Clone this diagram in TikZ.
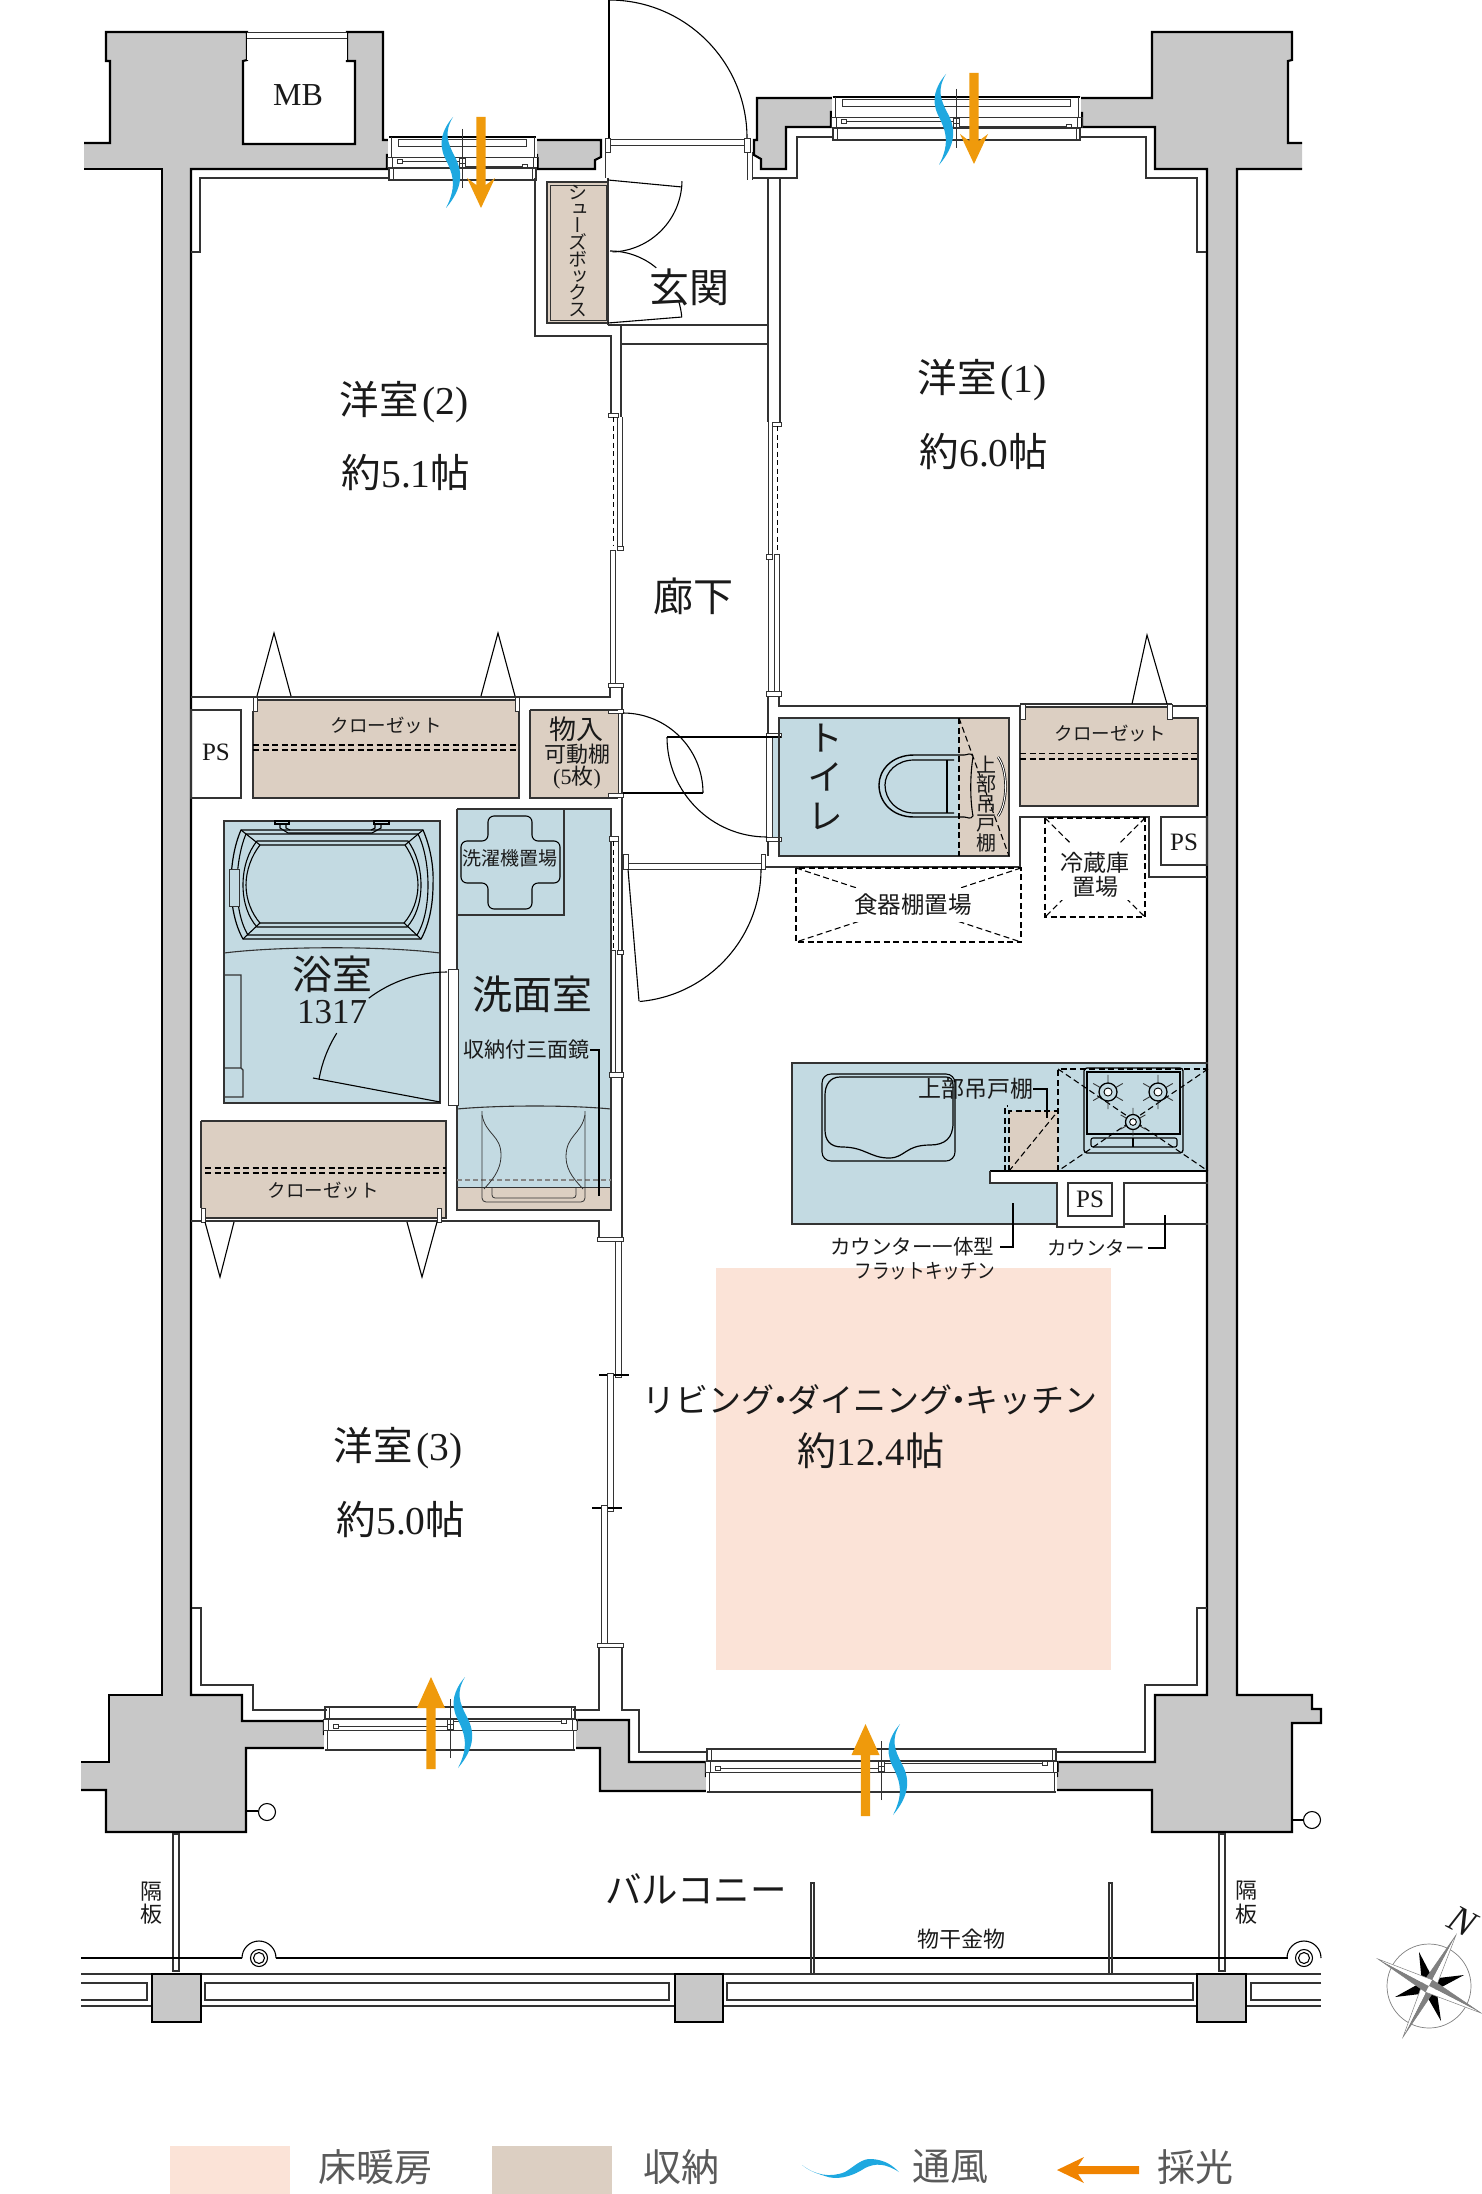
\documentclass[tikz,border=0pt]{standalone}
\usepackage{fontspec}
\usetikzlibrary{calc}
\newfontfamily\jp{Noto Sans CJK JP}
\newfontfamily\jpv[RawFeature={+vert}]{Noto Sans CJK JP}
\newfontfamily\lat{Liberation Serif}
\definecolor{wallc}{HTML}{C8C8C8}
\definecolor{tanc}{HTML}{DCCFC2}
\definecolor{bluec}{HTML}{C3DAE2}
\definecolor{pinkc}{HTML}{FBE3D7}
\definecolor{orgc}{HTML}{EF9A0C}
\definecolor{orgl}{HTML}{F08300}
\definecolor{wavec}{HTML}{1EA8E0}
\definecolor{linec}{HTML}{333333}
\definecolor{txtc}{HTML}{1A1A1A}
\definecolor{leg}{HTML}{5A5A5A}
\tikzset{
  wallfill/.style={fill=wallc,draw=none},
  wallline/.style={draw=black,line width=2.1pt,line join=miter},
  ln/.style={draw=linec,line width=1.1pt},
  lnt/.style={draw=linec,line width=.8pt},
  lnk/.style={draw=black,line width=1.1pt},
  jamb/.style={draw=linec,line width=.9pt,fill=white},
  dsh/.style={draw=black,line width=1.1pt,dash pattern=on 6pt off 3.5pt},
  dsht/.style={draw=black,line width=.7pt,dash pattern=on 5pt off 3.5pt},
  lbl/.style={inner sep=0pt,outer sep=0pt,anchor=center,align=center,text=txtc},
  tanfill/.style={fill=tanc,draw=none},
  bluefill/.style={fill=bluec,draw=none},
}
\newcommand\lab[4]{\node[lbl,font=\jp\fontsize{#3}{#3}\selectfont] (#1) at (#2) {#4};}
\newcommand\vlab[5]{\node[lbl,font=\jpv\fontsize{#3}{#4}\selectfont] (#1) at (#2) {#5};}
\newcommand\legl[3]{\node[lbl,text=leg,font=\jp\fontsize{38}{38}\selectfont] (#1) at (#2) {#3};}
\newcommand\rmtxt[1]{{\lat\kern.1em(#1)\kern.05em}}
% window: x0, width, exterior y, direction (1 = interior below, -1 = interior above)
\newcommand\winW[4]{%
\begin{scope}[shift={(#1,#3)},yscale=#4]
 \fill[white] (-3,0) rectangle (#2+3,43);
 \ifnum#4=1
  \draw[draw=black,line width=2pt] (-2,0)--(#2+2,0);
  \draw[lnt] (7,2) rectangle (#2-8,9);
 \else
  \draw[draw=linec,line width=1.5pt] (-2,0)--(#2+2,0);
 \fi
 \draw[lnt] (0,0)--(0,20) (#2,0)--(#2,20);
 \draw[lnt] (-4,20)--(#2+4,20);
 \draw[lnt] (-4,20)--(-4,31) (#2+4,20)--(#2+4,31) (1,20)--(1,31) (#2-1,20)--(#2-1,31);
 \draw[lnt] (6,24)--(#2/2-3,24) (#2/2+3,29)--(#2-6,29);
 \draw[jamb] (6,22) rectangle (11,26);
 \draw[jamb] (#2-12,27) rectangle (#2-7,31);
 \draw[jamb] (#2/2-3,21) rectangle (#2/2+3,31);
 \draw[lnt] (#2/2-3,26)--(#2/2+3,26);
 \draw[ln] (-2,31) rectangle (#2+2,43);
 \draw[lnt] (2,31)--(2,43) (#2-2,31)--(#2-2,43);
 \draw[line width=.9pt,draw=linec] (#2/2,-8)--(#2/2,51);
\end{scope}}
\newcommand\wavepic[1]{\fill[wavec,shift={(#1)}] (0,0) .. controls (-11,13) and (-15,26) .. (-8,41) .. controls (-1,55) and (5,68) .. (-7,91) .. controls (10,71) and (10,55) .. (2,40) .. controls (-6,25) and (-9,15) .. (0,0) -- cycle;}
\newcommand\arrowD[2]{\fill[orgc,shift={(#1,#2)}] (-4.7,0)--(4.7,0)--(4.7,68)--(14,61)--(0,91)--(-14,61)--(-4.7,68)--cycle;}
\newcommand\arrowU[2]{\fill[orgc,shift={(#1,#2)}] (-4.7,0)--(4.7,0)--(4.7,-61)--(14,-61)--(0,-92)--(-14,-61)--(-4.7,-61)--cycle;}
\newcommand\burner[2]{%
 \begin{scope}[shift={(#1)}]
 \draw[line width=.9pt,draw=linec] (90:#2*1.9pt)--(-90:#2*1.9pt) (30:#2*1.9pt)--(210:#2*1.9pt) (150:#2*1.9pt)--(330:#2*1.9pt);
 \draw[line width=1.3pt,draw=black,fill=bluec] (0,0) circle[radius=#2*1pt];
 \draw[line width=.9pt,draw=black,fill=white] (0,0) circle[radius=#2*.45pt];
 \end{scope}}
\newcommand\karc[4]{\draw[lnk] (#1) ++(#3:#2pt) arc[start angle=#3,end angle=#4,radius=#2pt];}
\newcommand\compray[2]{%
 \fill[#2] (1429,1986)--(#1)--($(1429,1986)!7pt!90:(#1)$)--cycle;
 \fill[white] (1429,1986)--(#1)--($(1429,1986)!7pt!-90:(#1)$)--cycle;
 \draw[draw=#2,line width=.5pt] ($(1429,1986)!7pt!-90:(#1)$)--(#1)--($(1429,1986)!7pt!90:(#1)$);}
\newcommand\compsmall[1]{%
 \fill[black] ($(1429,1986)!7pt!90:(#1)$)--(#1)--($(1429,1986)!7pt!-90:(#1)$)--cycle;}
\begin{document}
\begin{tikzpicture}[x=1pt,y=-1pt]
\useasboundingbox (0,0) rectangle (1482,2194);
\fill[white] (0,0) rectangle (1482,2194);
% ---------- floor fills
\fill[pinkc] (716,1268) rectangle (1111,1670);
\fill[bluefill] (792,1063)--(1208,1063)--(1208,1171)--(990,1171)--(990,1183)--(1057,1183)--(1057,1224)--(792,1224)--cycle;
\fill[tanfill] (1009,1111) rectangle (1058,1171);
\fill[bluefill] (224,821) rectangle (440,1103);
\fill[bluefill] (457,809) rectangle (611,1187);
\fill[tanfill] (457,1187) rectangle (611,1210);
\fill[bluefill] (779,718) rectangle (959,856);
\fill[bluefill] (772,737) rectangle (779,837);
\fill[tanfill] (959,718) rectangle (1009,856);
\fill[tanfill] (253,699) rectangle (519,798);
\fill[tanfill] (530,710) rectangle (618,798);
\fill[tanfill] (201,1121) rectangle (446,1218);
\fill[tanfill] (1020,707)--(1172,707)--(1172,718)--(1198,718)--(1198,806)--(1020,806)--cycle;
\fill[tanfill] (547,182) rectangle (608,323);
% ---------- walls: left mass
\fill[wallfill] (84,143)--(110,143)--(110,61)--(106,61)--(106,32)--(247,32)--(247,60)--(243,61)--(243,144)--(355,144)--(355,61)--(347,61)--(347,32)--(383,32)--(383,140)--(395,140)--(395,155)--(387,155)--(387,169)--(191,169)--(191,1695)--(242,1695)--(242,1721)--(324,1721)--(324,1734)--(333,1734)--(333,1748)--(246,1748)--(246,1832)--(106,1832)--(106,1790)--(81,1790)--(81,1762)--(109,1762)--(109,1695)--(162,1695)--(162,169)--(84,169)--cycle;
\draw[wallline] (84,143)--(110,143)--(110,61)--(106,61)--(106,32)--(247,32)--(247,60)--(243,61)--(243,144)--(355,144)--(355,61)--(347,61)--(347,32)--(383,32)--(383,140)--(395,140)--(395,155)--(387,155)--(387,169)--(191,169)--(191,1695)--(242,1695)--(242,1721)--(324,1721)--(324,1734)--(333,1734)--(333,1748)--(246,1748)--(246,1832)--(106,1832)--(106,1790)--(81,1790);
\draw[wallline] (81,1762)--(109,1762)--(109,1695)--(162,1695)--(162,169)--(84,169);
% MB opening: white slot between blocks at top
\fill[white] (247,33) rectangle (347,60);
\draw[lnt] (247,32)--(347,32) (247,38)--(347,38);
% walls: right mass
\fill[wallfill] (1073,98)--(1152,98)--(1152,32)--(1292,32)--(1292,60)--(1288,61)--(1288,143)--(1302,143)--(1302,169)--(1237,169)--(1237,1695)--(1312,1695)--(1312,1709)--(1321,1709)--(1321,1723)--(1292,1723)--(1292,1832)--(1152,1832)--(1152,1790)--(1048,1790)--(1048,1777)--(1057,1776)--(1057,1762)--(1155,1762)--(1155,1695)--(1207,1695)--(1207,169)--(1155,169)--(1155,127)--(1082,127)--(1082,113)--(1073,113)--cycle;
\draw[wallline] (1073,113)--(1073,98)--(1152,98)--(1152,32)--(1292,32)--(1292,60)--(1288,61)--(1288,143)--(1302,143);
\draw[wallline] (1302,169)--(1237,169)--(1237,1695)--(1312,1695)--(1312,1709)--(1321,1709)--(1321,1723)--(1292,1723)--(1292,1832)--(1152,1832)--(1152,1790)--(1048,1790)--(1048,1777)--(1057,1776)--(1057,1762)--(1155,1762)--(1155,1695)--(1207,1695)--(1207,169)--(1155,169)--(1155,127)--(1082,127)--(1082,113)--(1073,113);
% walls: small pieces
\filldraw[wallfill,wallline,fill=wallc] (530,140)--(601,140)--(601,157)--(595,160)--(595,169)--(537,169)--(537,155)--(530,155)--cycle;
\filldraw[wallfill,wallline,fill=wallc] (757,140)--(757,98)--(837,98)--(837,112)--(831,112)--(831,127)--(786,127)--(786,169)--(761,169)--(761,159)--(754,155)--(754,140)--cycle;
\filldraw[wallfill,wallline,fill=wallc] (574,1734)--(574,1720)--(629,1720)--(629,1762)--(706,1762)--(706,1776)--(714,1776)--(714,1791)--(600,1791)--(600,1748)--(567,1748)--(567,1736)--cycle;
% ---------- windows
\winW{391}{143}{137}{1}
\winW{835}{243}{97}{1}
\winW{327}{246}{1750}{-1}
\winW{709}{345}{1792}{-1}
% ---------- finish lines
\draw[ln] (390,178)--(200,178)--(200,252)--(191,252);
\draw[ln] (535,178)--(535,336)--(611,336)--(611,413);
\draw[ln] (834,137)--(797,137)--(797,178)--(752,178);
\draw[ln] (1080,137)--(1146,137)--(1146,178)--(1197,178)--(1197,252)--(1206,252);
\draw[ln] (327,1710)--(253,1710)--(253,1685)--(201,1685)--(201,1608)--(192,1608);
\draw[ln] (573,1710)--(599,1710)--(599,1647);
\draw[ln] (622,1647)--(622,1710)--(639,1710)--(639,1752)--(708,1752);
\draw[ln] (1055,1752)--(1145,1752)--(1145,1685)--(1197,1685)--(1197,1608)--(1207,1608);
% ---------- entrance
\draw[lnk] (609,0)--(609,138);
\karc{609,138}{138}{90}{0}
\draw[lnt] (605,139)--(750,139) (605,145)--(750,145);
\draw[jamb] (605,138) rectangle (610,152);
\draw[jamb] (744,138) rectangle (750,152);
\draw[lnt] (605,152)--(605,178) (747,152)--(747,180) (752,152)--(752,180);
\draw[ln] (608,178)--(608,325);
\draw[ln] (547,182) rectangle (608,323);
\draw[lnt] (550,185) rectangle (606,320);
\draw[lnk] (608,180)--(682,187);
\karc{610,180}{72}{-1}{-88}
\draw[lnk] (608,323)--(682,317);
\karc{610,323}{72}{90}{50}
\karc{610,323}{72}{18}{5}
\draw[ln] (608,325)--(768,325) (621,344)--(768,344);
% ---------- corridor, left
\draw[ln] (621,325)--(621,417);
\draw[lnt] (622,417)--(622,547) (617,417)--(617,547);
\draw[jamb] (608,413) rectangle (618,417);
\draw[dsht] (613,417)--(613,546);
\draw[jamb] (617,546) rectangle (623,550);
\draw[jamb] (610,550) rectangle (615,683);
\draw[jamb] (608,683) rectangle (623,687);
\draw[ln] (610,687)--(610,697)--(519,697) (253,697)--(191,697);
\draw[ln] (622,687)--(622,1237);
\draw[jamb] (608,709) rectangle (623,713);
\draw[lnt] (618,713)--(618,793);
\draw[jamb] (608,793) rectangle (623,797);
\draw[lnk] (623,793)--(703,793);
\karc{623,793}{80}{0}{90}
% corridor, right
\draw[ln] (768,178)--(768,422) (780,178)--(780,422);
\draw[jamb] (772,422) rectangle (781,426);
\draw[lnt] (768,422)--(768,554) (772,426)--(772,554);
\draw[dsht] (777,426)--(777,554);
\draw[jamb] (766,554) rectangle (772,559);
\draw[jamb] (774,554) rectangle (779,691);
\draw[jamb] (766,691) rectangle (781,696);
\draw[lnt] (768,559)--(768,691);
\draw[ln] (768,696)--(768,733) (779,696)--(779,706)--(1020,706);
% toilet walls & door
\draw[jamb] (766,733) rectangle (781,737);
\draw[jamb] (766,837) rectangle (781,841);
\draw[lnt] (766,737)--(766,837) (772,737)--(772,837);
\draw[ln] (768,841)--(768,856);
\draw[lnk] (781,737)--(667,737);
\karc{767,737}{100}{180}{270}
\draw[ln] (779,718) rectangle (1009,856);
\draw[ln] (765,867)--(1020,867)--(1020,817)--(1149,817)--(1149,877)--(1207,877);
\draw[jamb] (761,854) rectangle (765,869);
\draw[dsh] (959,718)--(959,856);
\draw[dsh] (959,718)--(1009,856);
% toilet fixture
\draw[lnk,line width=1.4pt] (964,755)--(914,755) .. controls (892,755) and (879,770) .. (879,785) .. controls (879,802) and (892,817) .. (914,817)--(964,817);
\draw[lnk,line width=1.2pt] (954,760)--(914,760) .. controls (897,760) and (885,772) .. (885,785) .. controls (885,800) and (897,813) .. (914,813)--(954,813);
\draw[lnk] (947,760)--(947,813);
\draw[lnk] (964,755) .. controls (968,755) and (970,752) .. (973,756)  (964,817) .. controls (968,817) and (970,820) .. (973,816);
\draw[lnk] (973,757) .. controls (970,775) and (970,800) .. (973,816);
\draw[lnk,double,double distance=1pt,line width=.7pt] (998,757) .. controls (1008,770) and (1008,803) .. (998,816);
% ---------- fridge / shelves / closets
\draw[dsh] (1045,818) rectangle (1145,917);
\draw[dsh] (1045,818)--(1145,917) (1145,818)--(1045,917);
\draw[dsh] (796,868) rectangle (1021,942);
\draw[dsh] (796,868)--(1021,942) (1021,868)--(796,942);
\fill[white] (852,888) rectangle (974,922);
\fill[white] (1060,843) rectangle (1130,900);
\draw[ln] (1172,706)--(1207,706);
\draw[ln] (1020,704)--(1172,704) (1020,707)--(1172,707);
\draw[jamb] (1020,704) rectangle (1025,719);
\draw[jamb] (1167,704) rectangle (1172,719);
\draw[ln] (1020,707)--(1020,806)--(1198,806)--(1198,718)--(1172,718);
\draw[dsh] (1020,753.5)--(1198,753.5) (1020,759)--(1198,759);
\draw[lnk] (1132,704)--(1147,635)--(1167,704);
\draw[ln] (1161,817) rectangle (1207,865);
% upper left closet
\draw[ln] (191,710) rectangle (241,798);
\draw[ln] (253,697)--(519,697) (253,700)--(519,700);
\draw[ln] (253,711)--(253,798)--(519,798)--(519,711);
\draw[jamb] (253,697) rectangle (257,711);
\draw[jamb] (515,697) rectangle (519,711);
\draw[dsh] (253,745)--(519,745) (253,750)--(519,750);
\draw[lnk] (257,696)--(274,633)--(291,696) (481,696)--(498,633)--(515,696);
\draw[ln] (530,710)--(530,798)--(618,798) (530,710)--(618,710);
% lower closet
\draw[ln] (205,1121)--(446,1121)--(446,1218)--(441,1218) (201,1121)--(201,1208) (205,1121)--(201,1121);
\draw[ln] (205,1218)--(437,1218) (205,1221)--(437,1221);
\draw[jamb] (201,1208) rectangle (205,1222);
\draw[jamb] (437,1208) rectangle (441,1222);
\draw[dsh] (205,1168)--(446,1168) (205,1173)--(446,1173);
\draw[lnk] (205,1222)--(220,1277)--(234,1222) (407,1222)--(422,1277)--(437,1222);
\draw[ln] (191,1221)--(201,1221) (441,1221)--(599,1221)--(599,1237);
% ---------- bath
\draw[ln] (224,821) rectangle (440,1103);
% tub
\draw[lnk,line width=1.2pt] (241,830)--(423,830) .. controls (430,846) and (434,866) .. (433,885) .. controls (433,905) and (429,925) .. (421,939)--(243,939) .. controls (235,925) and (231,905) .. (231,885) .. controls (231,866) and (234,846) .. (241,830)--cycle;
\draw[lnk] (246,834)--(418,834) .. controls (425,848) and (428,868) .. (428,885) .. controls (428,903) and (425,922) .. (417,935)--(248,935) .. controls (240,922) and (237,903) .. (237,885) .. controls (237,868) and (240,848) .. (246,834)--cycle;
\draw[lnk] (257,841)--(408,841) .. controls (416,852) and (421,868) .. (421,885) .. controls (421,902) and (416,917) .. (407,927)--(257,927) .. controls (248,917) and (243,902) .. (243,885) .. controls (243,868) and (248,852) .. (257,841)--cycle;
\draw[lnk] (260,845)--(405,845) .. controls (412,855) and (418,870) .. (418,885) .. controls (418,900) and (412,914) .. (404,923)--(260,923) .. controls (252,914) and (246,900) .. (246,885) .. controls (246,870) and (252,855) .. (260,845)--cycle;
\draw[lnk] (241,830)--(260,845) (423,830)--(405,845) (243,939)--(260,923) (421,939)--(404,923);
\draw[jamb,fill=bluec] (229,869) rectangle (239,906);
\draw[lnk] (275,821)--(289,821)--(289,824)--(275,824)--cycle (374,821)--(389,821)--(389,824)--(374,824)--cycle;
\draw[lnk] (280,824)--(280,828)--(288,833)--(372,833)--(381,828)--(381,824);
\draw[lnk] (286,824)--(286,828)--(290,830) (375,824)--(375,828)--(371,830);
\draw[ln] (224,953) .. controls (280,946) and (384,946) .. (440,953);
\draw[ln] (224,975)--(241,975)--(241,1068) (224,1068)--(241,1068)--(243,1070)--(243,1097)--(224,1097);
% bath door
\draw[jamb] (448,969) rectangle (458,1105);
\karc{447,1102}{130}{90}{127}
\karc{447,1102}{130}{148}{170}
\draw[lnk] (313,1078)--(440,1102);
% ---------- wash room
\draw[ln] (457,809)--(611,809)--(611,1210)--(457,1210)--(457,1105) (457,969)--(457,809);
\draw[ln] (564,809)--(564,915)--(457,915);
\draw[lnk,rounded corners=6pt,fill=bluec] (488,816)--(532,816)--(532,841)--(560,841)--(560,883)--(532,883)--(532,909)--(488,909)--(488,883)--(461,883)--(461,841)--(488,841)--cycle;
\draw[ln] (457,1109) .. controls (500,1105) and (570,1105) .. (611,1109);
\draw[ln,draw=linec!60,dash pattern=on 5pt off 3pt] (457,1180)--(611,1180);
\draw[lnt] (457,1187)--(611,1187);
\draw[lnt,rounded corners=4pt] (482,1111)--(482,1202)--(585,1202)--(585,1111);
\draw[lnt] (482,1115) .. controls (486,1135) and (501,1135) .. (501,1155) .. controls (501,1172) and (490,1182) .. (484,1189);
\draw[lnt] (585,1115) .. controls (581,1135) and (566,1135) .. (566,1157) .. controls (566,1172) and (577,1182) .. (583,1189);
\draw[lnt,rounded corners=3pt] (492,1187)--(492,1198)--(576,1198)--(576,1187);
\draw[lnk] (599,1196)--(599,1050)--(590,1050);
% lavatory side panels
\draw[jamb] (609,836) rectangle (618,841);
\draw[lnt] (618,841)--(618,950);
\draw[dsht] (613,841)--(613,950);
\draw[jamb] (617,950) rectangle (623,954);
\draw[jamb] (611,950) rectangle (615,1072);
\draw[jamb] (609,1072) rectangle (623,1077);
% LDK door
\draw[lnt] (628,863)--(762,863) (628,869)--(762,869);
\draw[jamb] (623,854) rectangle (628,869);
\draw[jamb] (761,854) rectangle (765,869);
\draw[lnk] (628,869)--(639,1001);
\karc{628,869}{133}{0}{-85}
% partition panels
\draw[jamb] (597,1237) rectangle (623,1241);
\draw[jamb] (615,1241) rectangle (621,1377);
\draw[lnk] (599,1375)--(629,1375);
\draw[jamb] (607,1373) rectangle (613,1511);
\draw[lnk] (592,1508)--(622,1508);
\draw[jamb] (601,1505) rectangle (607,1643);
\draw[jamb] (597,1643) rectangle (623,1647);
% ---------- kitchen
\draw[ln] (1208,1063)--(792,1063)--(792,1224)--(1057,1224);
\draw[draw=black,line width=1.6pt] (990,1171)--(1208,1171);
\draw[ln] (990,1171)--(990,1183)--(1057,1183)--(1057,1227)--(1124,1227)--(1124,1183)--(1208,1183) (1124,1224)--(1208,1224);
\draw[ln] (1068,1183) rectangle (1112,1216);
% sink
\draw[lnk,rounded corners=9pt] (822,1074) rectangle (955,1161);
\draw[lnk,line width=1.2pt] (840,1077)--(946,1077) .. controls (951,1077) and (953,1080) .. (953,1085)--(953,1123) .. controls (953,1138) and (945,1145) .. (930,1145) .. controls (905,1145) and (905,1158) .. (889,1158) .. controls (870,1158) and (865,1147) .. (842,1147) .. controls (830,1147) and (825,1140) .. (825,1130)--(825,1095) .. controls (825,1085) and (830,1077) .. (840,1077)--cycle;
% hood + hob
\draw[dsh] (1058,1171)--(1058,1069)--(1208,1069);
\draw[dsh] (1058,1069)--(1208,1171) (1208,1069)--(1058,1171);
\draw[lnk,line width=1.3pt,rounded corners=3pt] (1084,1068) rectangle (1183,1153);
\draw[lnk] (1087,1072) rectangle (1180,1134);
\draw[lnk,rounded corners=2pt] (1091,1138) rectangle (1177,1147);
\draw[lnk] (1133,1138)--(1133,1147);
\burner{1108,1092}{9}
\burner{1158,1092}{9}
\burner{1133,1122}{7.5}
% upper cupboard
\draw[dsh] (1009,1171)--(1009,1111)--(1058,1111);
\draw[dsh] (1005,1171)--(1005,1106)--(1008,1106);
\draw[dsh] (1009,1171)--(1058,1111);
\draw[lnk] (1033,1089)--(1047,1089)--(1047,1118);
\draw[lnk] (1000,1247)--(1013,1247)--(1013,1203);
\draw[lnk] (1148,1248)--(1165,1248)--(1165,1215);
% ---------- balcony
\draw[ln] (173,1834) rectangle (179,1971);
\draw[ln] (1219,1834) rectangle (1225,1971);
\draw[draw=black,line width=1.2pt] (81,1958)--(242,1958) (276,1958)--(1288,1958);
\draw[lnk] (242,1958) arc[start angle=180,end angle=0,radius=17pt];
\draw[lnk] (1287,1958) arc[start angle=180,end angle=0,radius=17pt];
\draw[lnk] (259,1958) circle[radius=8.5pt] (259,1958) circle[radius=5.5pt];
\draw[lnk] (1304,1958) circle[radius=8.5pt] (1304,1958) circle[radius=5.5pt];
\draw[ln,line width=1.5pt] (81,1974)--(1321,1974) (81,2006)--(1321,2006);
\draw[ln] (81,1983)--(147,1983)--(147,2000)--(81,2000);
\draw[ln] (205,1983) rectangle (669,2000);
\draw[ln] (727,1983) rectangle (1193,2000);
\draw[ln] (1321,1983)--(1251,1983)--(1251,2000)--(1321,2000);
\filldraw[wallfill,wallline,fill=wallc] (152,1974) rectangle (201,2022);
\filldraw[wallfill,wallline,fill=wallc] (675,1974) rectangle (723,2022);
\filldraw[wallfill,wallline,fill=wallc] (1197,1974) rectangle (1246,2022);
\draw[ln] (811,1883) rectangle (814,1974);
\draw[ln] (1109,1883) rectangle (1112,1974);
\draw[lnk] (247,1811)--(258,1811);
\draw[lnk] (267,1812) circle[radius=8.5pt];
\draw[lnk] (1292,1820)--(1303,1820);
\draw[lnk] (1312,1820) circle[radius=8.5pt];
% ---------- compass
\draw[draw=gray,line width=.7pt] (1429,1986) circle[radius=42pt];
\compsmall{1419,1952}
\compsmall{1441,2021}
\compsmall{1464,1975}
\compsmall{1395,1997}
\compray{1456,1935}{gray}
\compray{1403,2037}{gray}
\compray{1378,1959}{gray}
\compray{1481,2013}{gray}
\node[lbl,rotate=-28,font=\lat\itshape\fontsize{38}{38}\selectfont] (north) at (1463,1921) {N};
% ---------- arrows & waves
\wavepic{453,117}
\arrowD{481}{117}
\wavepic{946,74}
\arrowD{974}{73}
\wavepic{465,1677}
\arrowU{431}{1769}
\wavepic{900,1724}
\arrowU{865.5}{1816}
% ---------- labels
\lab{mb}{298,95}{32}{\lat MB}
\vlab{shoe}{578,251}{19}{16.7}{シ\\ュ\\ー\\ズ\\ボ\\ッ\\ク\\ス}
\lab{genkan}{689,287}{40}{玄関}
\lab{r2a}{405,402}{39.5}{洋室\rmtxt{2}}
\lab{r2b}{406,473}{39.5}{約{\lat 5.1}帖}
\lab{r1a}{983,380}{39.5}{洋室\rmtxt{1}}
\lab{r1b}{984,452}{39.5}{約{\lat 6.0}帖}
\lab{rouka}{693,596}{40}{廊下}
\lab{cl1}{386,725}{18.5}{クローゼット}
\lab{ps1}{216,752}{25}{\lat PS}
\lab{mono1}{576,729}{27}{物入}
\lab{mono2}{577,754}{22}{可動棚}
\lab{mono3}{577,778}{22}{{\lat (5}枚{\lat )}}
\vlab{toi}{825,777}{36}{39}{ト\\イ\\レ}
\vlab{ubt}{986,804}{20}{19.5}{上\\部\\吊\\戸\\棚}
\lab{cl2}{1110,733}{18.5}{クローゼット}
\lab{ps2}{1184,842}{25}{\lat PS}
\lab{rei1}{1095,863}{23}{冷蔵庫}
\lab{rei2}{1095,887}{23}{置場}
\lab{sho}{913,905}{23.5}{食器棚置場}
\lab{wm}{510,858}{19}{洗濯機置場}
\lab{bath}{332,974}{40}{浴室}
\node[lbl,font=\lat\fontsize{35}{35}\selectfont] (bath2) at (332,1012) {1317};
\lab{wash}{532,994}{40}{洗面室}
\lab{mirror}{526,1050}{21}{収納付三面鏡}
\lab{cl3}{323,1190}{18.5}{クローゼット}
\lab{ubt2}{976,1089}{23}{上部吊戸棚}
\lab{ps3}{1090,1199}{25}{\lat PS}
\lab{ct1}{912,1247}{20.5}{カウンター一体型}
\node[lbl,xscale=.86,transform shape,font=\jp\fontsize{20.5}{20.5}\selectfont] (ct2) at (925,1271) {フラットキッチン};
\lab{ct3}{1096,1248}{19.5}{カウンター}
\lab{ldk1}{870,1400}{33}{リビング\kern-.3em・\kern-.3emダイニング\kern-.3em・\kern-.3emキッチン}
\lab{ldk2}{871,1451}{39}{約{\lat 12.4}帖}
\lab{r3a}{399,1448}{39.5}{洋室\rmtxt{3}}
\lab{r3b}{401,1519}{39.5}{約{\lat 5.0}帖}
\lab{balc}{696,1889}{36.5}{バルコニー}
\lab{ita1a}{151,1892}{22}{隔}
\lab{ita1b}{151,1914}{22}{板}
\lab{ita2a}{1246,1891}{22}{隔}
\lab{ita2b}{1246,1914}{22}{板}
\lab{mono}{961,1939}{22}{物干金物}
% ---------- legend
\fill[pinkc] (170,2146) rectangle (290,2194);
\fill[tanc] (492,2146) rectangle (612,2194);
\legl{l1}{375,2167}{床暖房}
\legl{l2}{681,2167}{収納}
\fill[wavec] (802,2165) .. controls (815,2175) and (830,2178) .. (845,2172) .. controls (855,2166) and (862,2158) .. (872,2159) .. controls (885,2160) and (892,2165) .. (899,2172) .. controls (885,2163) and (875,2163) .. (865,2168) .. controls (850,2178) and (835,2180) .. (825,2176) .. controls (815,2173) and (808,2170) .. (802,2165) -- cycle;
\legl{l3}{950,2167}{通風}
\fill[orgl] (1057,2170)--(1084,2157)--(1078,2166)--(1139,2166)--(1139,2174)--(1078,2174)--(1084,2183)--cycle;
\legl{l4}{1195,2167}{採光}
\end{tikzpicture}
\end{document}
